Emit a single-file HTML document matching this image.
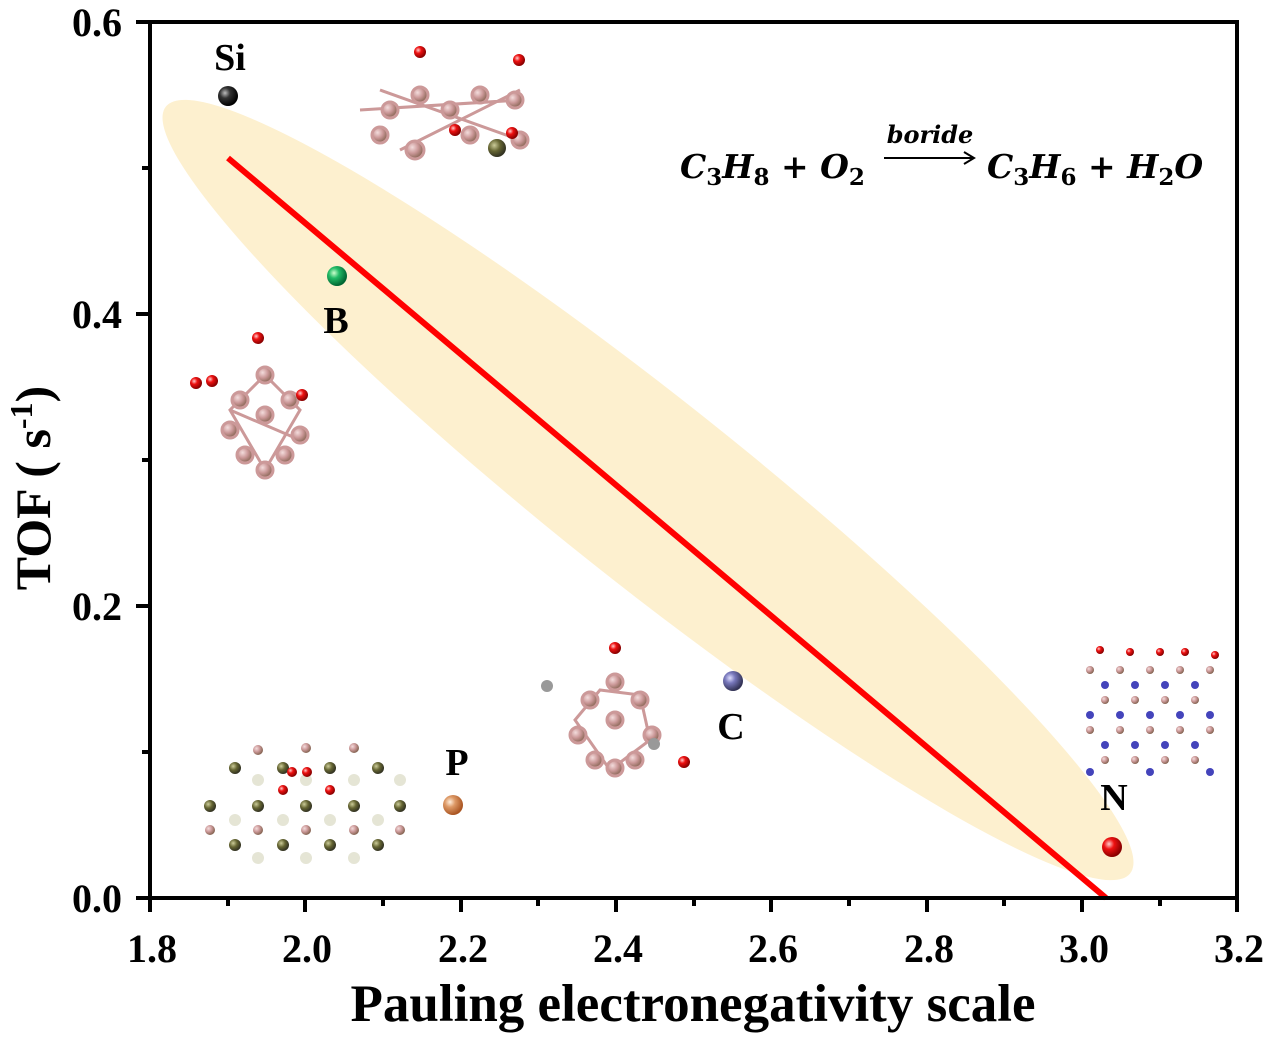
<!DOCTYPE html>
<html><head><meta charset="utf-8"><style>
html,body{margin:0;padding:0;background:#fff}
svg{display:block}
text{font-family:"Liberation Serif",serif;font-weight:bold}
</style></head><body>
<svg width="1268" height="1037" viewBox="0 0 1268 1037">
<defs>
<radialGradient id="gk" cx="35%" cy="35%" r="65%"><stop offset="0" stop-color="#bbb"/><stop offset="0.4" stop-color="#333"/><stop offset="1" stop-color="#000"/></radialGradient>
<radialGradient id="gg" cx="35%" cy="35%" r="65%"><stop offset="0" stop-color="#cfc"/><stop offset="0.4" stop-color="#2b6"/><stop offset="1" stop-color="#063"/></radialGradient>
<radialGradient id="gb" cx="35%" cy="35%" r="65%"><stop offset="0" stop-color="#ddf"/><stop offset="0.4" stop-color="#77b"/><stop offset="1" stop-color="#335"/></radialGradient>
<radialGradient id="go" cx="35%" cy="35%" r="65%"><stop offset="0" stop-color="#fed"/><stop offset="0.4" stop-color="#d96"/><stop offset="1" stop-color="#a52"/></radialGradient>
<radialGradient id="gr" cx="35%" cy="35%" r="65%"><stop offset="0" stop-color="#fcc"/><stop offset="0.4" stop-color="#e11"/><stop offset="1" stop-color="#800"/></radialGradient>
<radialGradient id="gp" cx="35%" cy="35%" r="65%"><stop offset="0" stop-color="#f3dcdc"/><stop offset="0.5" stop-color="#c99"/><stop offset="1" stop-color="#865"/></radialGradient>
<radialGradient id="gy" cx="35%" cy="35%" r="65%"><stop offset="0" stop-color="#cc9"/><stop offset="0.5" stop-color="#663"/><stop offset="1" stop-color="#332"/></radialGradient>
</defs>
<ellipse cx="648" cy="490" rx="616" ry="92" fill="#fdf0cf" transform="rotate(38.5 648 490)"/>
<line x1="228" y1="158" x2="1106" y2="898" stroke="#f00" stroke-width="6"/>

<g stroke="#c99" stroke-width="3" fill="url(#gp)">
<path d="M360 110 L520 100 M380 90 L520 140 M400 150 L520 90 M265 375 L230 410 L265 470 L300 410 Z M230 410 L300 440 M600 690 L575 720 L610 770 L650 740 L640 695 Z" fill="none"/>
<circle cx="390" cy="110" r="8"/><circle cx="420" cy="95" r="8"/><circle cx="450" cy="110" r="8"/><circle cx="480" cy="95" r="8"/><circle cx="515" cy="100" r="8"/><circle cx="380" cy="135" r="8"/><circle cx="415" cy="150" r="9"/><circle cx="470" cy="135" r="8"/><circle cx="520" cy="140" r="8"/>
<circle cx="265" cy="375" r="8"/><circle cx="240" cy="400" r="8"/><circle cx="290" cy="400" r="8"/><circle cx="230" cy="430" r="8"/><circle cx="300" cy="435" r="8"/><circle cx="265" cy="415" r="8"/><circle cx="245" cy="455" r="8"/><circle cx="285" cy="455" r="8"/><circle cx="265" cy="470" r="8"/>
<circle cx="615" cy="682" r="8"/><circle cx="590" cy="700" r="8"/><circle cx="640" cy="700" r="8"/><circle cx="578" cy="735" r="8"/><circle cx="652" cy="735" r="8"/><circle cx="615" cy="720" r="8"/><circle cx="595" cy="760" r="8"/><circle cx="635" cy="760" r="8"/><circle cx="615" cy="768" r="8"/>
</g>
<g fill="url(#gr)"><circle cx="420" cy="52" r="6"/><circle cx="519" cy="60" r="6"/><circle cx="455" cy="130" r="6"/><circle cx="512" cy="133" r="6"/><circle cx="258" cy="338" r="6"/><circle cx="196" cy="383" r="6"/><circle cx="212" cy="381" r="6"/><circle cx="302" cy="395" r="6"/><circle cx="615" cy="648" r="6"/><circle cx="684" cy="762" r="6"/></g>
<circle cx="497" cy="148" r="9" fill="url(#gy)"/>
<circle cx="547" cy="686" r="6" fill="#999"/><circle cx="654" cy="744" r="6" fill="#999"/>
<g>
<g fill="url(#gy)"><circle cx="235" cy="768" r="6"/><circle cx="283" cy="768" r="6"/><circle cx="330" cy="768" r="6"/><circle cx="378" cy="768" r="6"/><circle cx="210" cy="806" r="6"/><circle cx="258" cy="806" r="6"/><circle cx="306" cy="806" r="6"/><circle cx="354" cy="806" r="6"/><circle cx="400" cy="806" r="6"/><circle cx="235" cy="845" r="6"/><circle cx="283" cy="845" r="6"/><circle cx="330" cy="845" r="6"/><circle cx="378" cy="845" r="6"/></g>
<g fill="#e5e5d5"><circle cx="258" cy="780" r="6"/><circle cx="306" cy="780" r="6"/><circle cx="354" cy="780" r="6"/><circle cx="400" cy="780" r="6"/><circle cx="235" cy="820" r="6"/><circle cx="283" cy="820" r="6"/><circle cx="330" cy="820" r="6"/><circle cx="378" cy="820" r="6"/><circle cx="258" cy="858" r="6"/><circle cx="306" cy="858" r="6"/><circle cx="354" cy="858" r="6"/></g>
<g fill="url(#gp)"><circle cx="258" cy="750" r="5"/><circle cx="306" cy="748" r="5"/><circle cx="354" cy="748" r="5"/><circle cx="210" cy="830" r="5"/><circle cx="258" cy="830" r="5"/><circle cx="306" cy="830" r="5"/><circle cx="354" cy="830" r="5"/><circle cx="400" cy="830" r="5"/></g>
<g fill="url(#gr)"><circle cx="283" cy="790" r="5"/><circle cx="330" cy="790" r="5"/><circle cx="292" cy="772" r="5"/><circle cx="307" cy="772" r="5"/></g>
</g>
<g>
<g fill="url(#gp)"><circle cx="1090" cy="670" r="4"/><circle cx="1120" cy="670" r="4"/><circle cx="1150" cy="670" r="4"/><circle cx="1180" cy="670" r="4"/><circle cx="1210" cy="670" r="4"/><circle cx="1105" cy="700" r="4"/><circle cx="1135" cy="700" r="4"/><circle cx="1165" cy="700" r="4"/><circle cx="1195" cy="700" r="4"/><circle cx="1090" cy="730" r="4"/><circle cx="1120" cy="730" r="4"/><circle cx="1150" cy="730" r="4"/><circle cx="1180" cy="730" r="4"/><circle cx="1210" cy="730" r="4"/><circle cx="1105" cy="760" r="4"/><circle cx="1135" cy="760" r="4"/><circle cx="1165" cy="760" r="4"/><circle cx="1195" cy="760" r="4"/></g>
<g fill="#44b"><circle cx="1105" cy="685" r="4"/><circle cx="1135" cy="685" r="4"/><circle cx="1165" cy="685" r="4"/><circle cx="1195" cy="685" r="4"/><circle cx="1090" cy="715" r="4"/><circle cx="1120" cy="715" r="4"/><circle cx="1150" cy="715" r="4"/><circle cx="1180" cy="715" r="4"/><circle cx="1210" cy="715" r="4"/><circle cx="1105" cy="745" r="4"/><circle cx="1135" cy="745" r="4"/><circle cx="1165" cy="745" r="4"/><circle cx="1195" cy="745" r="4"/><circle cx="1090" cy="772" r="4"/><circle cx="1150" cy="772" r="4"/><circle cx="1210" cy="772" r="4"/></g>
<g fill="url(#gr)"><circle cx="1100" cy="650" r="4"/><circle cx="1130" cy="652" r="4"/><circle cx="1160" cy="652" r="4"/><circle cx="1185" cy="652" r="4"/><circle cx="1215" cy="655" r="4"/></g>
</g>

<circle cx="228" cy="96" r="10" fill="url(#gk)"/>
<circle cx="337" cy="276" r="10" fill="url(#gg)"/>
<circle cx="733" cy="681" r="10" fill="url(#gb)"/>
<circle cx="453" cy="805" r="10" fill="url(#go)"/>
<circle cx="1112" cy="847" r="10" fill="url(#gr)"/>
<g font-size="38" text-anchor="middle">
<text x="230" y="70">Si</text><text x="336" y="333">B</text><text x="731" y="739">C</text><text x="457" y="775">P</text><text x="1114" y="810">N</text>
</g>

<g font-style="italic" font-size="33">
<text x="680" y="178" style="font-family:'DejaVu Serif',serif">C<tspan font-size="23" dy="7" font-style="normal">3</tspan><tspan dy="-7">H</tspan><tspan font-size="23" dy="7" font-style="normal">8</tspan><tspan dy="-7" font-style="normal"> + </tspan><tspan>O</tspan><tspan font-size="23" dy="7" font-style="normal">2</tspan></text>
<text x="987" y="178" style="font-family:'DejaVu Serif',serif">C<tspan font-size="23" dy="7" font-style="normal">3</tspan><tspan dy="-7">H</tspan><tspan font-size="23" dy="7" font-style="normal">6</tspan><tspan dy="-7" font-style="normal"> + </tspan><tspan>H</tspan><tspan font-size="23" dy="7" font-style="normal">2</tspan><tspan dy="-7">O</tspan></text>
<text x="930" y="143" font-size="24" text-anchor="middle" style="font-family:'DejaVu Serif',serif">boride</text>
</g>
<line x1="884" y1="158" x2="972" y2="158" stroke="#000" stroke-width="2"/>
<path d="M964 152 L974 158 L964 164" fill="none" stroke="#000" stroke-width="2"/>

<rect x="150" y="22" width="1087" height="876" fill="none" stroke="#000" stroke-width="4"/>
<g stroke="#000" stroke-width="4">
<line x1="150" y1="898" x2="150" y2="912"/><line x1="305" y1="898" x2="305" y2="912"/><line x1="461" y1="898" x2="461" y2="912"/><line x1="616" y1="898" x2="616" y2="912"/><line x1="771" y1="898" x2="771" y2="912"/><line x1="927" y1="898" x2="927" y2="912"/><line x1="1082" y1="898" x2="1082" y2="912"/><line x1="1237" y1="898" x2="1237" y2="912"/>
<line x1="228" y1="898" x2="228" y2="906"/><line x1="383" y1="898" x2="383" y2="906"/><line x1="538" y1="898" x2="538" y2="906"/><line x1="694" y1="898" x2="694" y2="906"/><line x1="849" y1="898" x2="849" y2="906"/><line x1="1004" y1="898" x2="1004" y2="906"/><line x1="1160" y1="898" x2="1160" y2="906"/>
<line x1="136" y1="22" x2="150" y2="22"/><line x1="136" y1="314" x2="150" y2="314"/><line x1="136" y1="606" x2="150" y2="606"/><line x1="136" y1="898" x2="150" y2="898"/>
<line x1="142" y1="168" x2="150" y2="168"/><line x1="142" y1="460" x2="150" y2="460"/><line x1="142" y1="752" x2="150" y2="752"/>
</g>
<g font-size="40" text-anchor="middle">
<text x="152" y="962">1.8</text><text x="307" y="962">2.0</text><text x="463" y="962">2.2</text><text x="618" y="962">2.4</text><text x="773" y="962">2.6</text><text x="929" y="962">2.8</text><text x="1084" y="962">3.0</text><text x="1239" y="962">3.2</text>
</g>
<g font-size="40" text-anchor="end">
<text x="122" y="36">0.6</text><text x="122" y="328">0.4</text><text x="122" y="620">0.2</text><text x="122" y="912">0.0</text>
</g>
<text x="693" y="1021" font-size="53" text-anchor="middle">Pauling electronegativity scale</text>
<text transform="translate(50 488) rotate(-90)" font-size="50" text-anchor="middle">TOF ( s<tspan font-size="32" dy="-18">-1</tspan><tspan dy="18">)</tspan></text>
</svg>
</body></html>
